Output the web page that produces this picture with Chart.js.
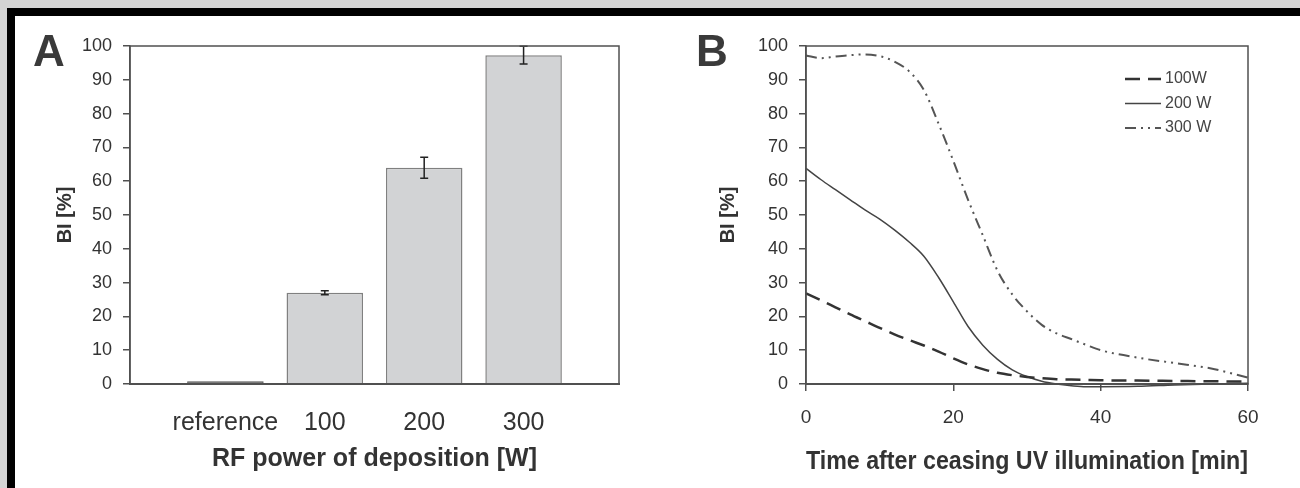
<!DOCTYPE html>
<html>
<head>
<meta charset="utf-8">
<script src="https://cdn.jsdelivr.net/npm/chart.js@4/dist/chart.umd.min.js"></script>
<style>
  html, body { margin: 0; padding: 0; }
  body { width: 1300px; height: 488px; background: #d4d4d4; overflow: hidden; position: relative; }
  #frame {
    position: absolute; left: 7px; top: 8px; right: 0; bottom: 0;
    background: #fff; border-top: 8px solid #000; border-left: 8px solid #000;
  }
  canvas { position: absolute; }
  #chartA { left: 15px; top: 16px; }
  #chartB { left: 650px; top: 16px; }
  .panel {
    position: absolute; font-family: "Liberation Sans", Arial, sans-serif;
    font-weight: bold; font-size: 44px; color: #3a3a3a; line-height: 1;
  }
</style>
</head>
<body>
<div id="frame"></div>
<canvas id="chartA" width="635" height="472"></canvas>
<canvas id="chartB" width="650" height="472"></canvas>
<div class="panel" style="left:33px; top:29px;">A</div>
<div class="panel" style="left:696px; top:29px;">B</div>
<script>
// Panel A: bars with error bars
const categories = ['reference', '100', '200', '300'];
const biMeans = [0.8, 27, 64, 97.3];
const biErrors = [0, 0.6, 3.1, 2.6];

// Panel B: decay curves
const minutes = [0, 2, 4, 6, 8, 10, 12, 14, 16, 18, 20, 22, 24, 26, 28, 30, 32, 34, 36, 38, 40, 45, 50, 55, 60];
const bi100 = [26.8, 24.8, 22.7, 20.6, 18.6, 16.6, 14.7, 13.0, 11.4, 9.6, 7.6, 5.8, 4.4, 3.3, 2.6, 2.1, 1.7, 1.4, 1.3, 1.2, 1.1, 1.0, 0.9, 0.8, 0.7];
const bi200 = [63.8, 60.5, 57.5, 54.5, 51.5, 48.8, 45.6, 42.0, 37.8, 31.5, 24.3, 17.0, 11.5, 7.3, 4.2, 2.2, 0.8, 0.0, -0.5, -0.8, -0.8, -0.7, -0.3, 0.0, 0.2];
const bi300 = [97.2, 96.4, 96.9, 97.3, 97.5, 97.0, 95.4, 92.5, 87.0, 77.0, 66.0, 54.5, 44.0, 33.5, 26.5, 21.5, 17.5, 15.0, 13.3, 11.6, 10.0, 7.8, 6.2, 4.6, 1.9];
const yTicks = [0, 10, 20, 30, 40, 50, 60, 70, 80, 90, 100];
const xTicksB = [0, 20, 40, 60];

const FONT = '"Liberation Sans", Arial, sans-serif';
const AXIS = '#505050';
const TEXT = '#333';

Chart.defaults.font.family = FONT;
Chart.defaults.color = TEXT;

// box around the plot area (top and right sides)
const frameBox = {
    id: 'frameBox',
    afterDraw(chart) {
        const a = chart.chartArea;
        const ctx = chart.ctx;
        ctx.save();
        ctx.strokeStyle = AXIS;
        ctx.lineWidth = 1.5;
        ctx.strokeRect(a.left, a.top, a.right - a.left, a.bottom - a.top);
        ctx.restore();
    }
};

// error bars drawn from biErrors via the chart scales
const errorBars = {
    id: 'errorBars',
    afterDatasetsDraw(chart) {
        const ctx = chart.ctx;
        const meta = chart.getDatasetMeta(0);
        const yScale = chart.scales.y;
        ctx.save();
        ctx.strokeStyle = '#222';
        ctx.lineWidth = 1.5;
        meta.data.forEach((bar, i) => {
            const err = biErrors[i];
            if (!err) return;
            const x = bar.x;
            const yHi = yScale.getPixelForValue(biMeans[i] + err);
            const yLo = yScale.getPixelForValue(biMeans[i] - err);
            ctx.beginPath();
            ctx.moveTo(x, yHi); ctx.lineTo(x, yLo);
            ctx.moveTo(x - 4, yHi); ctx.lineTo(x + 4, yHi);
            ctx.moveTo(x - 4, yLo); ctx.lineTo(x + 4, yLo);
            ctx.stroke();
        });
        ctx.restore();
    }
};

// legend drawn inside the plot area, top right
const insideLegend = {
    id: 'insideLegend',
    afterDraw(chart) {
        const a = chart.chartArea;
        const ctx = chart.ctx;
        const x0 = a.right - 123;
        ctx.save();
        ctx.font = '16px ' + FONT;
        ctx.textBaseline = 'middle';
        ctx.fillStyle = '#444';
        chart.data.datasets.forEach((ds, i) => {
            const y = a.top + 33 + i * 24.5;
            ctx.strokeStyle = ds.borderColor;
            ctx.lineWidth = ds.borderWidth;
            ctx.setLineDash(ds.borderDash || []);
            ctx.beginPath();
            ctx.moveTo(x0, y);
            ctx.lineTo(x0 + 36, y);
            ctx.stroke();
            ctx.setLineDash([]);
            ctx.fillText(ds.label, x0 + 40, y);
        });
        ctx.restore();
    }
};

function yAxis(width, titlePad) {
    return {
        min: 0, max: 100,
        afterBuildTicks: (s) => { s.ticks = yTicks.map(v => ({ value: v })); },
        afterFit: (s) => { s.width = width; },
        ticks: { font: { size: 18 }, color: TEXT, padding: 11 },
        grid: { drawOnChartArea: false, drawTicks: true, tickLength: 7, color: AXIS, lineWidth: 1.5 },
        border: { color: AXIS, width: 1.5 },
        title: {
            display: true, text: 'BI [%]', color: TEXT,
            font: { size: 20, weight: 'bold' },
            padding: { top: titlePad, bottom: 0 }
        }
    };
}

new Chart(document.getElementById('chartA'), {
    type: 'bar',
    data: {
        datasets: [{
            data: biMeans.map((v, i) => ({ x: i, y: v })),
            backgroundColor: ['#5c5c5c', '#d2d3d5', '#d2d3d5', '#d2d3d5'],
            borderColor: ['#555', '#808080', '#808080', '#808080'],
            borderWidth: 1.5,
            borderSkipped: 'start',
            barPercentage: 0.77,
            categoryPercentage: 1
        }]
    },
    options: {
        responsive: false,
        animation: false,
        layout: { padding: { top: 30, right: 31, bottom: 0, left: 0 } },
        plugins: { legend: { display: false }, tooltip: { enabled: false } },
        scales: {
            x: {
                type: 'linear',
                offset: false,
                min: -0.96, max: 3.96,
                afterBuildTicks: (s) => { s.ticks = categories.map((c, i) => ({ value: i })); },
                afterFit: (s) => { s.height = 104; },
                ticks: {
                    font: { size: 25 }, color: TEXT, padding: 16,
                    callback: (v) => categories[v]
                },
                grid: { display: false, offset: false },
                border: { color: AXIS, width: 2 },
                title: {
                    display: true, text: 'RF power of deposition [W]', color: TEXT,
                    font: { size: 25, weight: 'bold' },
                    padding: { top: 0, bottom: 14 }
                }
            },
            y: yAxis(115, 38)
        }
    },
    plugins: [errorBars, frameBox]
});

new Chart(document.getElementById('chartB'), {
    type: 'line',
    data: {
        labels: minutes,
        datasets: [
            {
                label: '100W', data: bi100,
                borderColor: '#333', borderWidth: 2.5, borderDash: [15, 8]
            },
            {
                label: '200 W', data: bi200,
                borderColor: '#444', borderWidth: 1.5
            },
            {
                label: '300 W', data: bi300,
                borderColor: '#555', borderWidth: 2, borderDash: [11, 5, 2, 5, 2, 5]
            }
        ]
    },
    options: {
        responsive: false,
        animation: false,
        layout: { padding: { top: 30, right: 52, bottom: 0, left: 0 } },
        elements: {
            point: { radius: 0 },
            line: { tension: 0.4, cubicInterpolationMode: 'monotone', fill: false }
        },
        datasets: { line: { clip: 4 } },
        plugins: { legend: { display: false }, tooltip: { enabled: false } },
        scales: {
            x: {
                type: 'linear',
                min: 0, max: 60,
                afterBuildTicks: (s) => { s.ticks = xTicksB.map(v => ({ value: v })); },
                afterFit: (s) => { s.height = 104; },
                ticks: { font: { size: 19 }, color: TEXT, padding: 15 },
                grid: { drawOnChartArea: false, drawTicks: true, tickLength: 7, color: AXIS, lineWidth: 1.5 },
                border: { color: AXIS, width: 2 },
                title: {
                    display: true, text: 'Time after ceasing UV illumination [min]', color: TEXT,
                    font: { size: 25, weight: 'bold' },
                    padding: { top: 0, bottom: 11 }
                }
            },
            y: yAxis(156, 66)
        }
    },
    plugins: [insideLegend, frameBox]
});
</script>
</body>
</html>
